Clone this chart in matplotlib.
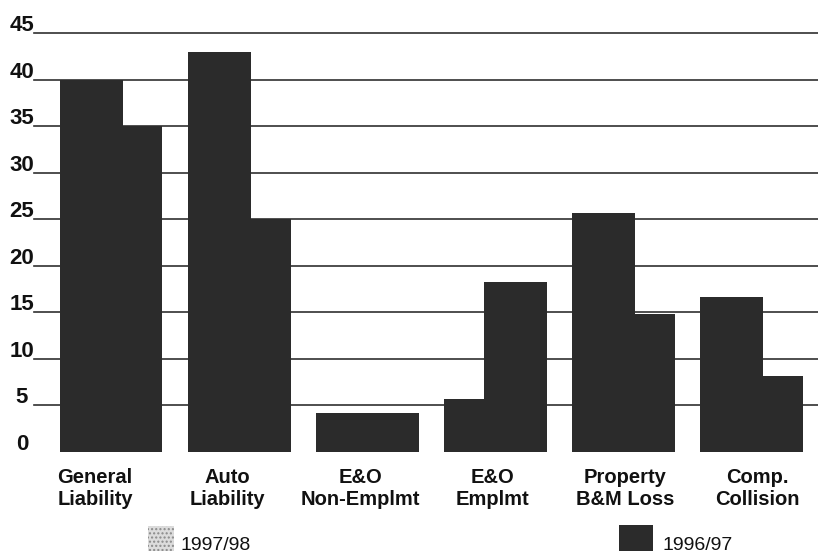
import matplotlib
matplotlib.use("Agg")
import matplotlib.pyplot as plt
from matplotlib.patches import Rectangle
from matplotlib.transforms import blended_transform_factory, ScaledTranslation
import numpy as np

# Claims by line of coverage, two fiscal years
categories = ["General\nLiability", "Auto\nLiability", "E&O\nNon-Emplmt",
              "E&O\nEmplmt", "Property\nB&M Loss", "Comp.\nCollision"]
series_names = ["1997/98", "1996/97"]
values_9798 = [40, 43, 4.2, 5.7, 25.7, 16.6]
values_9697 = [35, 25, 4.2, 18.3, 14.8, 8.2]
y_ticks = [0, 5, 10, 15, 20, 25, 30, 35, 40, 45]

W, H, DPI = 818, 556, 100
fig = plt.figure(figsize=(W / DPI, H / DPI), dpi=DPI)
fig.patch.set_facecolor("white")

def fx(px):
    return px / W

def fy(py):
    return (H - py) / H

ax_left, ax_right, ax_top, ax_bottom = 34, 818, 33, 452
ax = fig.add_axes([fx(ax_left), fy(ax_bottom), fx(ax_right - ax_left),
                   fy(ax_top) - fy(ax_bottom)])
ax.set_axis_off()

step_px = 128.1
first_center = 111
ax.set_xlim((ax_left - first_center) / step_px, (ax_right - first_center) / step_px)
ax.set_ylim(0, 45)

dark = "#2b2b2b"
x = np.arange(len(categories))
bar_w = 0.492
off = 0.156

# horizontal rules behind the bars
for t in y_ticks[1:]:
    ax.axhline(t, color="#303030", lw=1.2, zorder=0, clip_on=False)

ax.bar(x - off, values_9798, width=bar_w, color=dark, zorder=2, linewidth=0)
ax.bar(x + off, values_9697, width=bar_w, color=dark, zorder=2, linewidth=0)

font = "Liberation Sans"
ink = "#111111"

# value scale labels, sitting just above each rule
ytrans = blended_transform_factory(fig.transFigure, ax.transData) + \
    ScaledTranslation(0, 2 / DPI, fig.dpi_scale_trans)
for t in y_ticks:
    fig.text(fx(22), t, str(t), transform=ytrans, ha="center", va="baseline",
             fontsize=16, fontweight="bold", family=font, color=ink)

# category labels, two lines each, on a slightly wider pitch than the bars
label_first, label_step = 95, 132.5
line_baselines = [483, 505]
for i, lab in enumerate(categories):
    cx = fx(label_first + i * label_step)
    for line, by in zip(lab.split("\n"), line_baselines):
        fig.text(cx, fy(by), line, ha="center", va="baseline",
                 fontsize=14.5, fontweight="bold", family=font, color=ink)

# legend swatches and labels along the bottom
light = Rectangle((fx(148), fy(551)), fx(26), fy(526) - fy(551),
                  transform=fig.transFigure, facecolor="#dcdcdc",
                  edgecolor="#8a8a8a", hatch="....", linewidth=0)
darkp = Rectangle((fx(619), fy(551)), fx(34), fy(525) - fy(551),
                  transform=fig.transFigure, facecolor=dark, linewidth=0)
fig.patches.extend([light, darkp])
fig.text(fx(181), fy(550), series_names[0], ha="left", va="baseline",
         fontsize=14, family=font, color=ink)
fig.text(fx(663), fy(550), series_names[1], ha="left", va="baseline",
         fontsize=14, family=font, color=ink)

fig.savefig("out.png", dpi=DPI)
